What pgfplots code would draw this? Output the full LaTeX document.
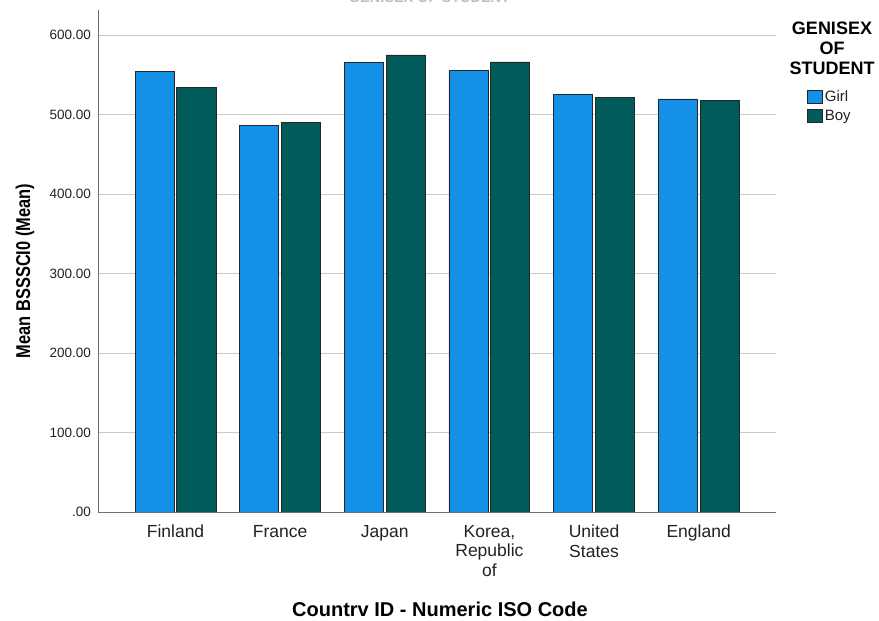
\documentclass[border=0pt]{standalone}
\usepackage{pgfplots}
\pgfplotsset{compat=1.18}
\usepackage{fontspec}
\setmainfont{Liberation Sans}
\definecolor{girl}{HTML}{1490E6}
\definecolor{boy}{HTML}{005B5A}
\definecolor{gridc}{HTML}{CACACA}
\definecolor{axc}{HTML}{707070}
\definecolor{txt}{HTML}{222222}
\pgfplotsset{spssbox/.style={legend image code/.code={\draw[##1] (0pt,-6.5pt) rectangle (15pt,6.5pt);}}}
\begin{document}
\begin{tikzpicture}
\begin{axis}[
  at={(0pt,0pt)}, anchor=south west,
  scale only axis, width=678pt, height=502pt,
  xmin=-0.741, xmax=5.739, ymin=0, ymax=631.4,
  axis x line*=bottom, axis y line*=left,
  x axis line style={draw=axc, line width=0.9pt, -},
  y axis line style={draw=axc, line width=0.9pt, -},
  major tick length=0pt,
  ytick={0,100,200,300,400,500,600},
  yticklabels={.00,100.00,200.00,300.00,400.00,500.00,600.00},
  yticklabel style={font=\fontsize{13.5}{16}\selectfont, text=txt, inner sep=0pt, xshift=-7pt},
  xtick={0,1,2,3,4,5},
  xticklabels={Finland,France,Japan,{Korea,\\Republic\\of},{United\\States},England},
  xticklabel style={font=\fontsize{17.5}{19.5}\selectfont, text=txt, align=center, inner sep=0pt, yshift=-13pt},
  ymajorgrids, grid style={draw=gridc, line width=0.9pt},
  legend style={at={(rel axis cs:1.0457,0.843)}, anchor=north west, draw=none, fill=none,
    inner sep=0pt, font=\fontsize{15}{17}\selectfont, row sep=3pt,
    nodes={inner sep=1.8pt, text=txt}},
  legend cell align=left,
]
\addplot[ybar, bar width=0.373, bar shift=-0.2, fill=girl, draw=black!85, line width=0.9pt, spssbox]
  coordinates {(0,553.5) (1,486.4) (2,565.6) (3,555.6) (4,525.4) (5,519.5)};
\addlegendentry{Girl}
\addplot[ybar, bar width=0.373, bar shift=0.2, fill=boy, draw=black!85, line width=0.9pt, spssbox]
  coordinates {(0,534.2) (1,490.2) (2,574.8) (3,566.0) (4,520.8) (5,517.0)};
\addlegendentry{Boy}
\end{axis}
\node[rotate=90, text=black] at (-73pt,241pt) {\fontsize{20}{22}\selectfont\scalebox{0.82}[1]{\bfseries Mean BSSSCI0 (Mean)}};
\node[text=black] at (342pt,-97pt) {\fontsize{20}{22}\selectfont\bfseries Countrv ID - Numeric ISO Code};
\node[text=black, align=center, font=\fontsize{18}{20}\selectfont\bfseries] at (734pt,464pt) {GENISEX\\OF\\STUDENT};
\node[text=black!25, anchor=base, font=\fontsize{14.5}{16}\selectfont\bfseries] at (331.5pt,509pt) {GENISEX OF STUDENT};
\pgfresetboundingbox
\path[use as bounding box] (-98pt,-109pt) rectangle (781pt,512pt);
\end{tikzpicture}
\end{document}
